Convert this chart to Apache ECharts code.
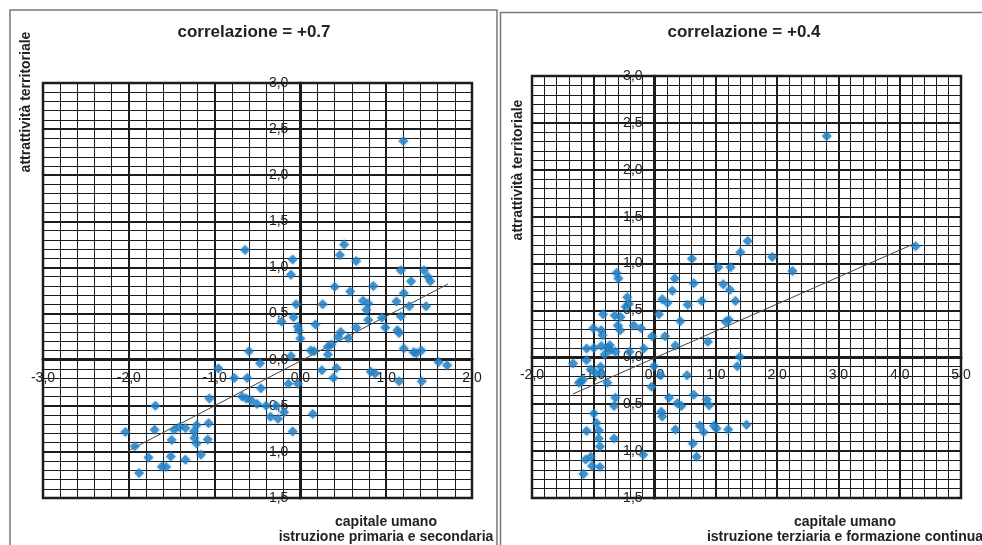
<!DOCTYPE html>
<html>
<head>
<meta charset="utf-8">
<script src="https://cdn.jsdelivr.net/npm/echarts@6/dist/echarts.min.js"></script>
<style>
  html, body { margin: 0; padding: 0; background: #fff; }
  #chart { width: 982px; height: 545px; }
</style>
</head>
<body>
<div id="chart"></div>
<script>
// Left panel: primary and secondary education vs territorial attractiveness
const leftX = [1.20, -0.645, -0.60, -0.47, -0.955, -0.77, -0.62, -0.46, -0.09, -0.11,
  0.51, 0.46, 0.65, 0.40, 0.58, 0.85, -0.05, 0.26, -0.08, -0.22,
  -0.03, -0.02, 0.0, 0.175, 0.73, 0.79, 0.77, 0.79, 0.95, 0.99,
  0.65, 0.47, 0.56, 0.44, 0.36, 0.32, 0.32, 0.12, 0.16, -0.11,
  -0.14, -0.03, 0.25, 0.42, 0.385, 0.82, 0.87, 1.17, 1.29, 1.44,
  1.485, 1.515, 1.205, 1.12, 1.27, 1.465, 1.17, 1.13, 1.15, 1.205,
  1.32, 1.35, 1.41, 1.61, 1.71, 1.15, 1.415, -1.06, -1.69, -0.68,
  -0.63, -0.575, -0.505, -0.40, -0.28, -0.19, -0.35, -0.26, 0.145, -0.09,
  -2.04, -1.93, -1.70, -1.47, -1.41, -1.34, -1.50, -1.24, -1.21, -1.07,
  -1.235, -1.21, -1.08, -1.16, -1.77, -1.51, -1.34, -1.615, -1.565, -1.88];
const leftY = [2.37, 1.19, 0.09, -0.04, -0.095, -0.20, -0.20, -0.31, 1.085, 0.92,
  1.25, 1.135, 1.07, 0.79, 0.74, 0.80, 0.60, 0.60, 0.46, 0.415,
  0.36, 0.32, 0.23, 0.38, 0.64, 0.61, 0.54, 0.43, 0.455, 0.35,
  0.35, 0.30, 0.235, 0.245, 0.165, 0.14, 0.055, 0.10, 0.09, 0.04,
  -0.26, -0.26, -0.115, -0.09, -0.195, -0.13, -0.15, 0.97, 0.85, 0.97,
  0.90, 0.85, 0.72, 0.63, 0.58, 0.58, 0.47, 0.32, 0.29, 0.12,
  0.08, 0.07, 0.10, -0.025, -0.06, -0.235, -0.235, -0.42, -0.50, -0.40,
  -0.42, -0.44, -0.48, -0.50, -0.50, -0.57, -0.62, -0.64, -0.59, -0.78,
  -0.785, -0.94, -0.76, -0.76, -0.73, -0.74, -0.87, -0.775, -0.71, -0.69,
  -0.85, -0.91, -0.865, -1.03, -1.06, -1.05, -1.085, -1.16, -1.165, -1.23];
const leftTrendX = [-2.01, 1.72];
const leftTrendY = [-0.99, 0.82];

// Right panel: tertiary education and lifelong learning vs territorial attractiveness
const rightX = [2.81, 1.52, 1.40, 0.61, 1.04, 1.24, 1.12, 1.23, 1.32, 1.21,
  1.16, -0.62, -0.59, 0.33, 0.64, 0.29, 0.125, 0.21, 0.54, 0.77,
  -0.445, -0.42, -0.47, -0.84, -0.65, -0.555, 0.07, 0.42, -0.60, -0.56,
  -1.0, -0.87, -0.85, -0.34, -0.22, -0.04, 0.17, 0.34, 0.87, -1.11,
  -0.99, -0.87, -0.815, -0.73, -0.72, -0.76, -0.64, -0.41, -0.175, -1.11,
  -1.33, -0.88, -1.04, -0.87, -0.77, -1.235, -1.17, -0.01, -0.05, 0.53,
  1.39, 1.35, 1.92, 2.25, 4.26, -1.20, -0.96, 0.10, -0.64, -0.66,
  0.235, 0.37, 0.435, 0.64, 0.85, 0.89, 0.11, 0.125, 0.34, 0.74,
  0.80, 0.97, 1.01, 1.20, 1.50, 0.625, 0.685, -0.185, -0.99, -0.95,
  -1.11, -0.91, -0.91, -0.89, -0.66, -1.125, -1.04, -1.02, -0.89, -1.16];
const rightY = [2.36, 1.24, 1.12, 1.05, 0.96, 0.96, 0.78, 0.72, 0.60, 0.40,
  0.38, 0.90, 0.84, 0.84, 0.79, 0.71, 0.62, 0.58, 0.56, 0.60,
  0.64, 0.57, 0.54, 0.46, 0.445, 0.43, 0.46, 0.385, 0.34, 0.29,
  0.31, 0.29, 0.235, 0.34, 0.31, 0.225, 0.225, 0.125, 0.165, 0.095,
  0.10, 0.12, 0.03, 0.13, 0.075, 0.10, 0.06, 0.06, 0.095, -0.03,
  -0.065, -0.10, -0.13, -0.17, -0.27, -0.27, -0.24, -0.095, -0.315, -0.19,
  0.005, -0.095, 1.07, 0.92, 1.185, -0.26, -0.17, -0.19, -0.43, -0.52,
  -0.43, -0.49, -0.52, -0.40, -0.45, -0.51, -0.58, -0.63, -0.77, -0.73,
  -0.795, -0.73, -0.76, -0.77, -0.72, -0.92, -1.06, -1.04, -0.60, -0.70,
  -0.785, -0.78, -0.865, -0.95, -0.865, -1.09, -1.06, -1.16, -1.17, -1.245];
const rightTrendX = [-1.33, 4.23];
const rightTrendY = [-0.39, 1.21];

const titles = ['correlazione = +0.7', 'correlazione = +0.4'];
const yName = 'attrattività territoriale';
const xNames = ['capitale umano\nistruzione primaria e secondaria',
                'capitale umano\nistruzione terziaria e formazione continua'];

const pairs = (xs, ys) => xs.map((x, i) => [x, ys[i]]);
const fmt = v => v.toFixed(1).replace('.', ',');
const ink = '#1c1c1c';
const dotColor = '#2280c4';

// Plot boxes; each axis is shifted inward so that it crosses the other at zero
const boxes = [
  { left: 43, top: 83, width: 429, height: 415, xMin: -3, xMax: 2 },
  { left: 532, top: 76, width: 429, height: 422, xMin: -2, xMax: 5 }
];
const yMin = -1.5, yMax = 3;
const labelStyle = { formatter: fmt, color: '#222', fontSize: 14, fontFamily: 'Liberation Sans, Arial' };

function xAxisFor(idx) {
  const b = boxes[idx];
  const zeroFromBottom = b.height * (0 - yMin) / (yMax - yMin);
  return {
    gridIndex: idx, type: 'value', min: b.xMin, max: b.xMax, interval: 1,
    position: 'bottom', offset: -zeroFromBottom,
    axisLine: { onZero: false, lineStyle: { color: ink, width: 3 } },
    axisTick: { show: true, length: 4, lineStyle: { color: ink, width: 1.5 } },
    axisLabel: Object.assign({ margin: 11 }, labelStyle),
    splitLine: { show: true, lineStyle: { color: ink, width: 2 } },
    minorTick: { show: false, splitNumber: 5 },
    minorSplitLine: { show: true, lineStyle: { color: ink, width: 1 } }
  };
}
function yAxisFor(idx) {
  const b = boxes[idx];
  const zeroFromLeft = b.width * (0 - b.xMin) / (b.xMax - b.xMin);
  return {
    gridIndex: idx, type: 'value', min: yMin, max: yMax, interval: 0.5,
    position: 'left', offset: -zeroFromLeft,
    axisLine: { onZero: false, lineStyle: { color: ink, width: 3 } },
    axisTick: { show: true, length: 4, lineStyle: { color: ink, width: 1.5 } },
    axisLabel: Object.assign({ margin: 12 }, labelStyle),
    splitLine: { show: true, lineStyle: { color: ink, width: 2 } },
    minorTick: { show: false, splitNumber: 5 },
    minorSplitLine: { show: true, lineStyle: { color: ink, width: 1 } }
  };
}
function dots(idx, data) {
  return {
    type: 'scatter', xAxisIndex: idx, yAxisIndex: idx, data: data,
    symbol: 'diamond', symbolSize: 10, z: 5,
    itemStyle: { color: dotColor, shadowBlur: 3, shadowColor: 'rgba(34,128,196,0.45)' },
    emphasis: { disabled: true }
  };
}
function trend(idx, data) {
  return {
    type: 'line', xAxisIndex: idx, yAxisIndex: idx, data: data,
    symbol: 'none', z: 4, silent: true,
    lineStyle: { color: '#444', width: 1 }
  };
}
const textBase = { fontFamily: 'Liberation Sans, Arial', fontWeight: 'bold', fill: '#222' };

const chart = echarts.init(document.getElementById('chart'), null, { renderer: 'canvas' });
chart.setOption({
  animation: false,
  backgroundColor: '#fff',
  grid: boxes.map(b => ({
    left: b.left, top: b.top, width: b.width, height: b.height,
    show: true, borderColor: ink, borderWidth: 2.5, backgroundColor: 'transparent'
  })),
  xAxis: [xAxisFor(0), xAxisFor(1)],
  yAxis: [yAxisFor(0), yAxisFor(1)],
  series: [
    trend(0, pairs(leftTrendX, leftTrendY)),
    dots(0, pairs(leftX, leftY)),
    trend(1, pairs(rightTrendX, rightTrendY)),
    dots(1, pairs(rightX, rightY))
  ],
  graphic: [
    { type: 'rect', shape: { x: 10, y: 10, width: 487, height: 560 }, style: { fill: 'none', stroke: '#777', lineWidth: 1.5 }, z: 0 },
    { type: 'rect', shape: { x: 500.5, y: 12.5, width: 500, height: 560 }, style: { fill: 'none', stroke: '#777', lineWidth: 1.5 }, z: 0 },
    { type: 'text', x: 254, y: 32, style: Object.assign({ text: titles[0], fontSize: 17, textAlign: 'center', textVerticalAlign: 'middle' }, textBase) },
    { type: 'text', x: 744, y: 32, style: Object.assign({ text: titles[1], fontSize: 17, textAlign: 'center', textVerticalAlign: 'middle' }, textBase) },
    { type: 'text', x: 26, y: 102, rotation: Math.PI / 2, style: Object.assign({ text: yName, fontSize: 14, textAlign: 'center', textVerticalAlign: 'middle' }, textBase) },
    { type: 'text', x: 518, y: 170, rotation: Math.PI / 2, style: Object.assign({ text: yName, fontSize: 14, textAlign: 'center', textVerticalAlign: 'middle' }, textBase) },
    { type: 'text', x: 386, y: 530, style: Object.assign({ text: xNames[0], fontSize: 14, lineHeight: 15, textAlign: 'center', textVerticalAlign: 'middle' }, textBase) },
    { type: 'text', x: 845, y: 530, style: Object.assign({ text: xNames[1], fontSize: 14, lineHeight: 15, textAlign: 'center', textVerticalAlign: 'middle' }, textBase) }
  ]
});
</script>
</body>
</html>
